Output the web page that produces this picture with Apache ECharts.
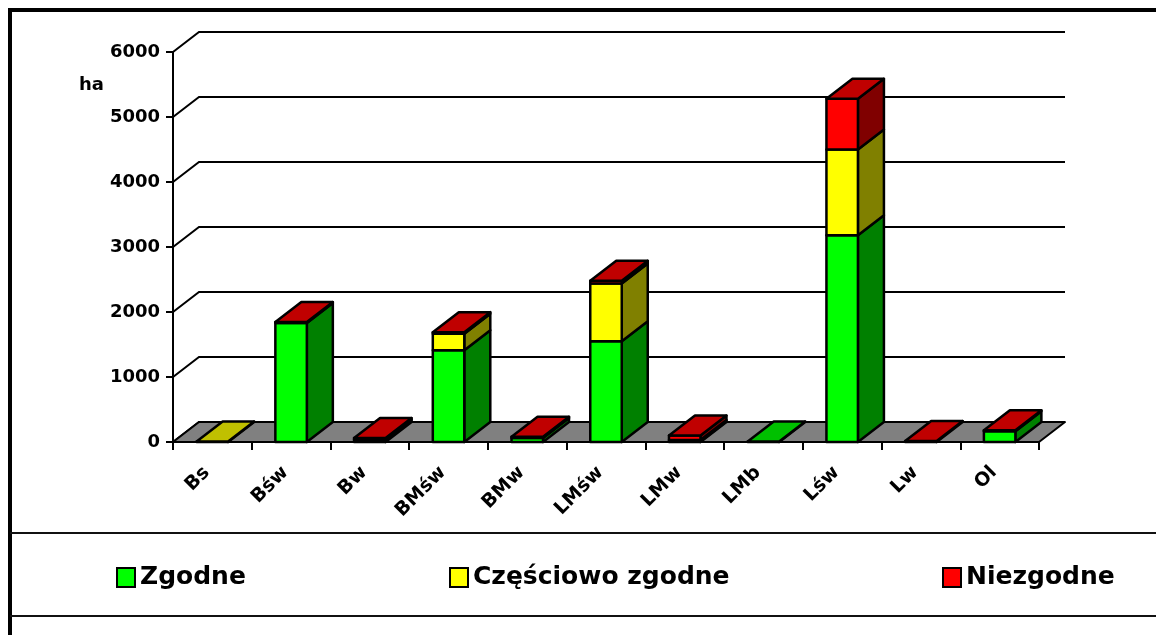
<!DOCTYPE html>
<html>
<head>
<meta charset="utf-8">
<script src="https://cdn.jsdelivr.net/npm/echarts@6/dist/echarts.min.js"></script>
<style>
  html, body { margin: 0; padding: 0; background: #ffffff; }
  #chart { width: 1156px; height: 635px; }
</style>
</head>
<body>
<div id="chart"></div>
<script>
// Forest habitat types (ha), split by conformity
const categories = ['Bs', 'Bśw', 'Bw', 'BMśw', 'BMw', 'LMśw', 'LMw', 'LMb', 'Lśw', 'Lw', 'Ol'];
const zgodne     = [0, 1830, 35, 1410, 60, 1550, 10, 6, 3180, 0, 165];
const czesciowo  = [6, 0, 0, 255, 0, 890, 20, 0, 1320, 0, 0];
const niezgodne  = [0, 15, 25, 25, 20, 40, 70, 0, 780, 15, 15];
const yTicks     = [0, 1000, 2000, 3000, 4000, 5000, 6000];
const seriesNames = ['Zgodne', 'Częściowo zgodne', 'Niezgodne'];

// depth of the pseudo-3D box (pixels)
const DX = 26, DY = -20;
const FONT = 'DejaVu Sans';

// face colours: front, side, top
const palette = [
  { front: '#00FF00', side: '#008000', top: '#00C000' },
  { front: '#FFFF00', side: '#808000', top: '#C0C000' },
  { front: '#FF0000', side: '#800000', top: '#C00000' }
];

const layers = [zgodne, czesciowo, niezgodne];

// stacked [index, low, high, isTop] per layer
function layerData(k) {
  return categories.map((c, i) => {
    let lo = 0;
    for (let j = 0; j < k; j++) lo += layers[j][i];
    const hi = lo + layers[k][i];
    let above = 0;
    for (let j = k + 1; j < layers.length; j++) above += layers[j][i];
    return [i, lo, hi, (layers[k][i] > 0 && above === 0) ? 1 : 0];
  });
}

const edge = { stroke: '#000', lineWidth: 2.5, lineJoin: 'round' };

function boxRenderer(k) {
  const col = palette[k];
  return function (params, api) {
    const i = api.value(0), lo = api.value(1), hi = api.value(2), isTop = api.value(3);
    if (hi <= lo) return;
    const pLo = api.coord([i, lo]);
    const pHi = api.coord([i, hi]);
    const w = api.size([1, 0])[0] * 0.4;
    const x0 = pLo[0] - w / 2, x1 = pLo[0] + w / 2;
    const yb = pLo[1], yt = pHi[1];
    const children = [
      { type: 'polygon', shape: { points: [[x1, yb], [x1, yt], [x1 + DX, yt + DY], [x1 + DX, yb + DY]] },
        style: Object.assign({ fill: col.side }, edge) },
      { type: 'rect', shape: { x: x0, y: yt, width: w, height: yb - yt },
        style: Object.assign({ fill: col.front }, edge) }
    ];
    if (isTop) {
      children.push({ type: 'polygon',
        shape: { points: [[x0, yt], [x1, yt], [x1 + DX, yt + DY], [x0 + DX, yt + DY]] },
        style: Object.assign({ fill: col.top }, edge) });
    }
    return { type: 'group', children: children };
  };
}

const chart = echarts.init(document.getElementById('chart'), null, { renderer: 'canvas' });

const legendBase = {
  orient: 'horizontal', top: 560, icon: 'rect', itemWidth: 18, itemHeight: 19,
  textStyle: { fontFamily: FONT, fontWeight: 'bold', fontSize: 25, color: '#000' },
  selectedMode: false
};

chart.setOption({
  animation: false,
  backgroundColor: '#ffffff',
  grid: { left: 173, top: 52, width: 866, height: 390 },
  legend: [
    Object.assign({ left: 111, data: [seriesNames[0]] }, legendBase),
    Object.assign({ left: 444, data: [seriesNames[1]] }, legendBase),
    Object.assign({ left: 937, data: [seriesNames[2]] }, legendBase)
  ],
  xAxis: {
    type: 'category',
    data: categories,
    axisLine: { show: true, lineStyle: { color: '#000', width: 2 } },
    axisTick: { show: true, length: 8, alignWithLabel: false, lineStyle: { color: '#000', width: 2 } },
    axisLabel: {
      interval: 0, rotate: 45, margin: 22, padding: [0, 8, 0, 0],
      fontFamily: FONT, fontWeight: 'bold', fontSize: 19, color: '#000'
    },
    splitLine: { show: false }
  },
  yAxis: {
    type: 'value', min: 0, max: 6000, interval: 1000,
    axisLine: { show: true, lineStyle: { color: '#000', width: 2 } },
    axisTick: { show: true, length: 7, lineStyle: { color: '#000', width: 2 } },
    axisLabel: {
      margin: 13, fontFamily: FONT, fontWeight: 'bold', fontSize: 18, color: '#000',
      formatter: v => String(v)
    },
    splitLine: { show: false }
  },
  graphic: [
    { type: 'text', left: 79, top: 76, style: { text: 'ha', font: 'bold 18px "DejaVu Sans"', fill: '#000' } },
    { type: 'line', shape: { x1: 10, y1: 8, x2: 10, y2: 635 }, style: { stroke: '#000', lineWidth: 4 } },
    { type: 'line', shape: { x1: 8, y1: 10, x2: 1156, y2: 10 }, style: { stroke: '#000', lineWidth: 4 } },
    { type: 'line', shape: { x1: 10, y1: 533, x2: 1156, y2: 533 }, style: { stroke: '#111', lineWidth: 2 } },
    { type: 'line', shape: { x1: 10, y1: 616, x2: 1156, y2: 616 }, style: { stroke: '#111', lineWidth: 2 } }
  ],
  series: [
    {
      // back-wall grid lines
      type: 'custom', silent: true, z: 1,
      data: yTicks.map(v => [0, v]),
      encode: { x: 0, y: 1 },
      renderItem: function (params, api) {
        const cs = params.coordSys;
        const y = api.coord([0, api.value(1)])[1];
        return { type: 'polyline',
          shape: { points: [[cs.x, y], [cs.x + DX, y + DY], [cs.x + cs.width + DX, y + DY]] },
          style: { stroke: '#000', lineWidth: 2, fill: null } };
      }
    },
    {
      // floor
      type: 'custom', silent: true, z: 1,
      data: [[0, 0]],
      encode: { x: 0, y: 1 },
      renderItem: function (params, api) {
        const cs = params.coordSys;
        const y = api.coord([0, 0])[1];
        const xl = cs.x, xr = cs.x + cs.width;
        return { type: 'polygon',
          shape: { points: [[xl, y], [xr, y], [xr + DX, y + DY], [xl + DX, y + DY]] },
          style: { fill: '#808080', stroke: '#000', lineWidth: 2, lineJoin: 'round' } };
      }
    }
  ].concat(seriesNames.map((name, k) => ({
    name: name,
    type: 'custom', z: 2,
    itemStyle: { color: palette[k].front, borderColor: '#000', borderWidth: 2 },
    data: layerData(k),
    encode: { x: 0, y: [1, 2] },
    renderItem: boxRenderer(k)
  })))
});
</script>
</body>
</html>
